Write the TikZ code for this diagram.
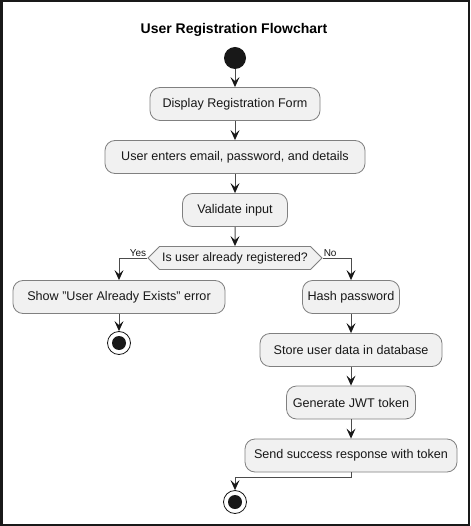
\documentclass[tikz,border=0pt]{standalone}
\usepackage{fontspec}
\setmainfont{Liberation Sans}
\usetikzlibrary{arrows.meta,shapes.symbols}
\definecolor{boxfill}{HTML}{F1F1F1}
\definecolor{dk}{HTML}{181818}
\tikzset{
  act/.style={draw=black!50, fill=boxfill, rounded corners=10pt, line width=0.8pt,
    minimum height=33pt, inner sep=0pt, font=\fontsize{12.6}{14}\selectfont, text=dk},
  decision/.style={shape=signal, signal to=west and east, signal pointer angle=90,
    draw=black!50, fill=boxfill, line width=0.8pt, minimum height=23pt, minimum width=174pt,
    inner xsep=0pt, inner ysep=0pt, font=\fontsize{12.3}{14}\selectfont, text=dk},
  flow/.style={draw=black!70, line width=1pt, -{Stealth[length=10pt,width=9pt,inset=4pt,color=dk]}},
  startc/.style={circle, fill=dk, minimum size=22pt, inner sep=0pt},
  endc/.style={circle, draw=dk, fill=white, line width=0.8pt, minimum size=23pt, inner sep=0pt,
    path picture={\fill[dk] (path picture bounding box.center) circle (7pt);}},
  lbl/.style={font=\fontsize{10}{11}\selectfont, text=dk, inner sep=1pt},
  ttl/.style={font=\fontsize{14}{16}\selectfont\bfseries, text=black}
}
\begin{document}
\begin{tikzpicture}[x=1pt,y=-1pt]
\useasboundingbox (0,0) rectangle (470,526);
\fill[white] (0,0) rectangle (470,526);
\draw[line width=2.5pt, black!90] (1.25,1.25) rectangle (468.75,524.75);

\node[ttl] (title) at (234,30) {User Registration Flowchart};

\node[startc] (start) at (235,58) {};
\node[act, minimum width=170pt] (a1) at (235,104) {Display Registration Form};
\node[act, minimum width=260pt] (a2) at (235,157) {User enters email, password, and details};
\node[act, minimum width=105pt] (a3) at (235,210) {Validate input};
\node[decision] (dec) at (235,258) {Is user already registered?};
\node[act, minimum width=212pt] (err) at (119,297) {Show "User Already Exists" error};
\node[endc] (end1) at (119,343) {};
\node[act, minimum width=97pt] (hash) at (351,297) {Hash password};
\node[act, minimum width=182pt] (store) at (351,350) {Store user data in database};
\node[act, minimum width=129pt] (gen) at (351,402.5) {Generate JWT token};
\node[act, minimum width=212pt] (send) at (351,455.5) {Send success response with token};
\node[endc] (end2) at (235,502) {};

\draw[flow] (start) -- (a1);
\draw[flow] (a1) -- (a2);
\draw[flow] (a2) -- (a3);
\draw[flow] (a3) -- (dec);
\draw[flow] (dec.west) -| (err.north);
\draw[flow] (dec.east) -| (hash.north);
\draw[flow] (err) -- (end1);
\draw[flow] (hash) -- (store);
\draw[flow] (store) -- (gen);
\draw[flow] (gen) -- (send);
\draw[flow] (send.south) -- ++(0,5) -| (end2.north);

\node[lbl, anchor=south east] (yes) at (dec.west) {Yes};
\node[lbl, anchor=south west] (no) at (dec.east) {No};
\end{tikzpicture}
\end{document}
